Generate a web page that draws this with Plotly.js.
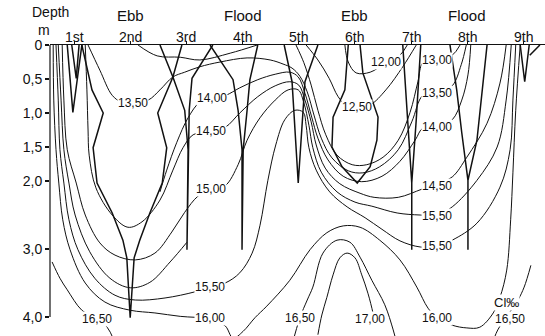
<!DOCTYPE html>
<html>
<head>
<meta charset="utf-8">
<script src="https://cdn.plot.ly/plotly-3.0.1.min.js"></script>
<style>html,body{margin:0;padding:0;background:#fff;}#chart{width:545px;height:336px;}</style>
</head>
<body>
<div id="chart"></div>
<script>
// ---- axis data (x = station number, y = depth in m) ----
const stations = [1, 2, 3, 4, 5, 6, 7, 8, 9];
const stationLabels = ['1st', '2nd', '3rd', '4th', '5th', '6th', '7th', '8th', '9th'];
const tideStations = [2, 4, 6, 8];
const tideLabels = ['Ebb', 'Flood', 'Ebb', 'Flood'];
const depthTicks = [0, 0.5, 1, 1.5, 2, 3, 4];
const depthTickText = ['0', '0,5', '1,0', '1,5', '2,0', '3,0', '4,0'];

// ---- station profile lines ----
const p1x = [0.88, 0.98, 1.14];             const p1y = [0, 0.99, 0];
const p1bx = [0.96, 1.04, 1.09];            const p1by = [0, 0.49, 0];
const p2x = [1.14, 1.32, 1.52, 1.34, 1.41, 1.68, 1.87, 1.94, 2.00, 2.07, 2.17, 2.35, 2.57, 2.65, 2.49, 2.76, 2.92];
const p2y = [0, 0.66, 1.00, 1.51, 2.03, 2.47, 2.87, 3.13, 4.01, 3.13, 2.87, 2.47, 2.03, 1.51, 1.00, 0.47, 0];
const p3x = [2.53, 2.76, 2.97, 3.03, 3.01, 3.03, 3.05, 3.10, 3.47];
const p3y = [0, 0.47, 0.96, 1.54, 3.01, 1.54, 0.96, 0.49, 0];
const p4x = [3.42, 3.83, 3.92, 3.99, 3.99, 4.01, 4.08, 4.13, 4.27];
const p4y = [0, 0.51, 0.96, 1.54, 3.01, 1.54, 0.96, 0.51, 0];
const p5x = [4.74, 4.88, 4.99, 5.11, 5.34]; const p5y = [0, 0.54, 2.03, 0.54, 0];
const p6x = [5.88, 5.82, 5.61, 5.59, 5.77, 6.04, 6.27, 6.39, 6.41, 6.14, 6.09];
const p6y = [0, 0.66, 1.06, 1.50, 1.79, 2.03, 1.79, 1.40, 1.06, 0.41, 0];
const p7x = [6.85, 6.94, 7.01, 7.01, 7.01, 7.09, 7.17];
const p7y = [0, 1.10, 2.03, 3.01, 2.03, 1.10, 0];
const p8x = [7.69, 7.81, 7.90, 8.01, 8.01, 8.01, 8.17, 8.26, 8.35];
const p8y = [0, 0.66, 1.29, 1.99, 3.01, 1.99, 1.40, 0.66, 0];
const p9x = [8.94, 9.02, 9.10];             const p9y = [0, 0.54, 0];
const p9bx = [9.11, 9.29];                  const p9by = [0.15, 0];

// ---- isohalines (Cl ‰) ----
const x1200 = [5.82, 5.88, 6.02, 6.27, 6.55, 6.80, 6.93];
const y1200 = [0, 0.25, 0.41, 0.40, 0.26, 0.15, 0];
const x1250 = [5.13, 5.34, 5.54, 5.70, 5.86, 6.04, 6.27, 6.55, 6.85, 7.09];
const y1250 = [0, 0.22, 0.49, 0.76, 0.90, 0.91, 0.88, 0.66, 0.32, 0];
const x1300 = [4.95, 5.09, 5.22, 5.34, 5.48, 5.68, 5.95, 6.21, 6.50, 6.77, 6.98, 7.12, 7.21, 7.46, 7.73, 7.87];
const y1300 = [0, 0.26, 0.59, 0.96, 1.32, 1.62, 1.76, 1.76, 1.65, 1.40, 0.99, 0.54, 0.26, 0.22, 0.15, 0];
const xTop = [2.14, 2.48, 2.89, 3.24, 3.78, 4.26];
const yTop = [0, 0.16, 0.18, 0.22, 0.12, 0];
const x1350 = [1.25, 1.46, 1.68, 1.85, 2.05, 2.32, 2.53, 2.76, 2.97, 3.24, 3.60, 4.08, 4.49,
               4.72, 4.88, 5.02, 5.15, 5.27, 5.40, 5.59, 5.88, 6.14, 6.44, 6.77, 7.01, 7.21,
               7.46, 7.73, 7.89, 7.98];
const y1350 = [0, 0.37, 0.74, 0.84, 0.84, 0.81, 0.66, 0.47, 0.40, 0.32, 0.25, 0.19, 0.22,
               0.28, 0.34, 0.46, 0.69, 1.03, 1.37, 1.66, 1.85, 1.88, 1.79, 1.54, 1.13, 0.74,
               0.71, 0.60, 0.29, 0];
const x1400 = [2.53, 2.65, 2.83, 3.03, 3.24, 3.46, 3.70, 3.95, 4.27, 4.58, 4.84, 4.99, 5.11, 5.23,
               5.34, 5.52, 5.79, 6.12, 6.48, 6.80, 7.07, 7.21, 7.46, 7.73, 7.90, 8.01, 8.06];
const y1400 = [2.16, 1.84, 1.43, 1.07, 0.84, 0.78, 0.74, 0.63, 0.51, 0.43, 0.40, 0.47, 0.71, 1.06,
               1.37, 1.69, 1.93, 2.01, 1.93, 1.71, 1.40, 1.22, 1.21, 1.10, 0.81, 0.44, 0];
const x1450 = [1.20, 1.23, 1.25, 1.27, 1.39, 1.68, 1.96, 2.21, 2.53, 2.76, 2.94, 3.12, 3.44, 3.69, 3.95, 4.27, 4.58,
               4.84, 5.00, 5.11, 5.22, 5.31, 5.47, 5.73, 6.09, 6.34, 6.77, 7.19,
               7.46, 7.73, 7.99, 8.35, 8.58, 8.69];
const y1450 = [0, 0.66, 1.25, 1.62, 2.10, 2.50, 2.68, 2.60, 2.28, 1.84, 1.51, 1.32, 1.26, 1.21, 1.00, 0.76, 0.60,
               0.54, 0.59, 0.81, 1.13, 1.47, 1.81, 2.04, 2.18, 2.24, 2.24, 2.12,
               2.04, 1.94, 1.65, 1.15, 0.56, 0];
const x1500 = [0.79, 0.82, 0.88, 1.04, 1.20, 1.46, 1.73, 2.09, 2.44, 2.74, 2.97, 3.21, 3.44, 3.69, 3.92, 4.08, 4.31, 4.58,
               4.81, 4.99, 5.09, 5.18, 5.25, 5.40, 5.68, 6.00, 6.30, 6.75, 7.16,
               7.46, 7.73, 8.17, 8.53, 8.69, 8.78];
const y1500 = [0, 0.81, 1.54, 2.03, 2.50, 2.91, 3.09, 3.16, 3.06, 2.75, 2.46, 2.22, 2.13, 2.07, 1.76, 1.40, 1.07, 0.81,
               0.66, 0.66, 0.85, 1.18, 1.51, 1.87, 2.16, 2.31, 2.37, 2.47, 2.50,
               2.50, 2.38, 1.99, 1.50, 0.81, 0];
const xMid = [0.72, 0.77, 0.82, 0.91, 1.02, 1.28, 1.64, 2.00, 2.35, 2.71, 3.01];
const yMid = [0, 0.81, 1.54, 2.03, 2.50, 3.04, 3.43, 3.57, 3.49, 3.19, 2.90];
const x1550 = [0.68, 0.72, 0.75, 0.82, 0.91, 1.07, 1.37, 1.73, 2.09, 2.62, 3.15, 3.42, 3.69, 3.95, 4.17, 4.31, 4.45, 4.59, 4.75,
               4.93, 5.08, 5.13, 5.18, 5.31, 5.55, 5.86, 6.18, 6.48, 6.80, 7.16,
               7.46, 7.73, 8.17, 8.58, 8.76, 8.81, 8.86];
const y1550 = [0, 0.81, 1.54, 2.03, 2.57, 3.01, 3.43, 3.68, 3.75, 3.72, 3.63, 3.56, 3.50, 3.35, 3.06, 2.65, 1.99, 1.47, 1.10,
               0.96, 0.99, 1.18, 1.51, 1.84, 2.16, 2.38, 2.54, 2.71, 2.88, 2.97,
               2.96, 2.87, 2.62, 2.09, 1.54, 0.81, 0];
const x1600 = [0.63, 0.64, 0.68, 0.73, 0.80, 0.93, 1.20, 1.55, 2.00, 2.44, 2.89, 3.42, 3.69, 3.83, 4.01,
               4.22, 4.43, 4.84, 5.20, 5.50, 5.79, 6.09, 6.44, 6.80, 7.10, 7.30, 7.46, 7.73, 7.99, 8.22,
               8.46, 8.58, 8.70, 8.77, 8.81, 8.86, 8.94];
const y1600 = [0, 0.81, 1.54, 2.03, 2.57, 3.01, 3.50, 3.78, 3.90, 3.94, 3.99, 4.03, 4.13, 4.31, 4.21,
               4.01, 3.84, 3.46, 3.01, 2.76, 2.66, 2.68, 2.87, 3.16, 3.56, 3.87, 4.01, 4.12, 4.16, 4.15,
               3.94, 3.71, 3.31, 2.57, 1.88, 0.96, 0];
const x1650a = [0.61, 0.75, 0.88, 1.14, 1.41, 1.59, 1.71];
const y1650a = [3.19, 3.43, 3.60, 3.90, 4.03, 4.15, 4.34];
const x1650b = [4.88, 5.02, 5.15, 5.25, 5.43, 5.68, 5.91, 6.09, 6.30, 6.53, 6.68, 6.75];
const y1650b = [4.41, 4.01, 3.75, 3.56, 3.06, 2.87, 2.90, 3.12, 3.46, 3.82, 4.19, 4.41];
const x1650c = [8.40, 8.54, 8.72, 8.90, 9.01, 9.13];
const y1650c = [4.49, 4.19, 3.97, 3.75, 3.56, 3.24];
const x1700 = [5.34, 5.41, 5.50, 5.61, 5.73, 5.86, 6.00, 6.12, 6.23, 6.32, 6.36];
const y1700 = [4.26, 3.97, 3.71, 3.38, 3.13, 3.06, 3.13, 3.38, 3.65, 3.94, 4.12];

// ---- contour labels ----
const labelText = ['12,00', '12,50', '13,00', '13,50', '13,50', '14,00', '14,00', '14,50', '14,50', '15,00',
                   '15,50', '15,50', '15,50', '16,00', '16,00', '16,50', '16,50', '16,50', '17,00'];
const labelStation = [6.55, 6.04, 7.46, 2.05, 7.46, 3.46, 7.46, 3.44, 7.46, 3.44,
                      3.42, 7.46, 7.46, 3.42, 7.46, 1.41, 5.02, 8.76, 6.27];
const labelDepth = [0.25, 0.91, 0.22, 0.85, 0.71, 0.78, 1.21, 1.26, 2.07, 2.12,
                    3.56, 2.51, 2.96, 4.01, 4.01, 4.03, 4.01, 4.03, 4.03];
const unitLabel = 'Cl‰';
const unitStation = 8.69, unitDepth = 3.78;

const INK = '#111';
function contour(x, y) {
  return {x: x, y: y, mode: 'lines', type: 'scatter', hoverinfo: 'skip', showlegend: false,
          line: {color: INK, width: 1, shape: 'spline', smoothing: 1}};
}
function profile(x, y) {
  return {x: x, y: y, mode: 'lines', type: 'scatter', hoverinfo: 'skip', showlegend: false,
          line: {color: INK, width: 1.5, shape: 'linear'}};
}

const traces = [
  profile(p1x, p1y), profile(p1bx, p1by), profile(p2x, p2y), profile(p3x, p3y), profile(p4x, p4y),
  profile(p5x, p5y), profile(p6x, p6y), profile(p7x, p7y), profile(p8x, p8y), profile(p9x, p9y),
  profile(p9bx, p9by),
  contour(x1200, y1200), contour(x1250, y1250), contour(x1300, y1300), contour(xTop, yTop),
  contour(x1350, y1350), contour(x1400, y1400), contour(x1450, y1450), contour(x1500, y1500),
  contour(xMid, yMid), contour(x1550, y1550), contour(x1600, y1600),
  contour(x1650a, y1650a), contour(x1650b, y1650b), contour(x1650c, y1650c), contour(x1700, y1700)
];

const FONT = 'Liberation Sans, Arial, sans-serif';
const annotations = [];
labelText.forEach((t, i) => annotations.push({
  x: labelStation[i], y: labelDepth[i], xref: 'x', yref: 'y', text: t, showarrow: false,
  font: {family: FONT, size: 12, color: INK}, bgcolor: '#fff', borderpad: 0
}));
annotations.push({x: unitStation, y: unitDepth, xref: 'x', yref: 'y', text: unitLabel, showarrow: false,
  font: {family: FONT, size: 13, color: INK}, bgcolor: '#fff', borderpad: 0});
stationLabels.forEach((t, i) => annotations.push({
  x: stations[i], y: 1.0275, xref: 'x', yref: 'paper', text: t, showarrow: false, yanchor: 'middle',
  font: {family: FONT, size: 14, color: INK}
}));
tideLabels.forEach((t, i) => annotations.push({
  x: tideStations[i], y: 1.103, xref: 'x', yref: 'paper', text: t, showarrow: false, yanchor: 'middle',
  font: {family: FONT, size: 15, color: INK}
}));
annotations.push({x: -0.04, y: 1.112, xref: 'paper', yref: 'paper', text: 'Depth', showarrow: false,
  yanchor: 'middle', font: {family: FONT, size: 14, color: INK}});
annotations.push({x: -0.028, y: 1.052, xref: 'paper', yref: 'paper', text: 'm', showarrow: false,
  yanchor: 'middle', font: {family: FONT, size: 14, color: INK}});

const layout = {
  width: 545, height: 336,
  margin: {l: 50, r: 0, t: 45, b: 0, pad: 0},
  paper_bgcolor: '#fff', plot_bgcolor: '#fff',
  showlegend: false,
  xaxis: {range: [0.573, 9.381], side: 'top', showline: true, linecolor: INK, linewidth: 1.2,
          ticks: 'outside', ticklen: 3, tickcolor: INK, tickvals: stations, showticklabels: false,
          showgrid: false, zeroline: false, fixedrange: true},
  yaxis: {range: [4.279, 0], tickvals: depthTicks, ticktext: depthTickText, ticks: 'outside',
          ticklen: 4, tickcolor: INK, tickwidth: 1.2, tickfont: {family: FONT, size: 14, color: INK},
          showline: false, showgrid: false, zeroline: false, fixedrange: true},
  shapes: [{type: 'line', xref: 'paper', x0: 0, x1: 0, yref: 'y', y0: depthTicks[0],
            y1: depthTicks[depthTicks.length - 1], line: {color: INK, width: 1.2}}],
  annotations: annotations
};

Plotly.newPlot('chart', traces, layout, {staticPlot: true, displayModeBar: false});
</script>
</body>
</html>
